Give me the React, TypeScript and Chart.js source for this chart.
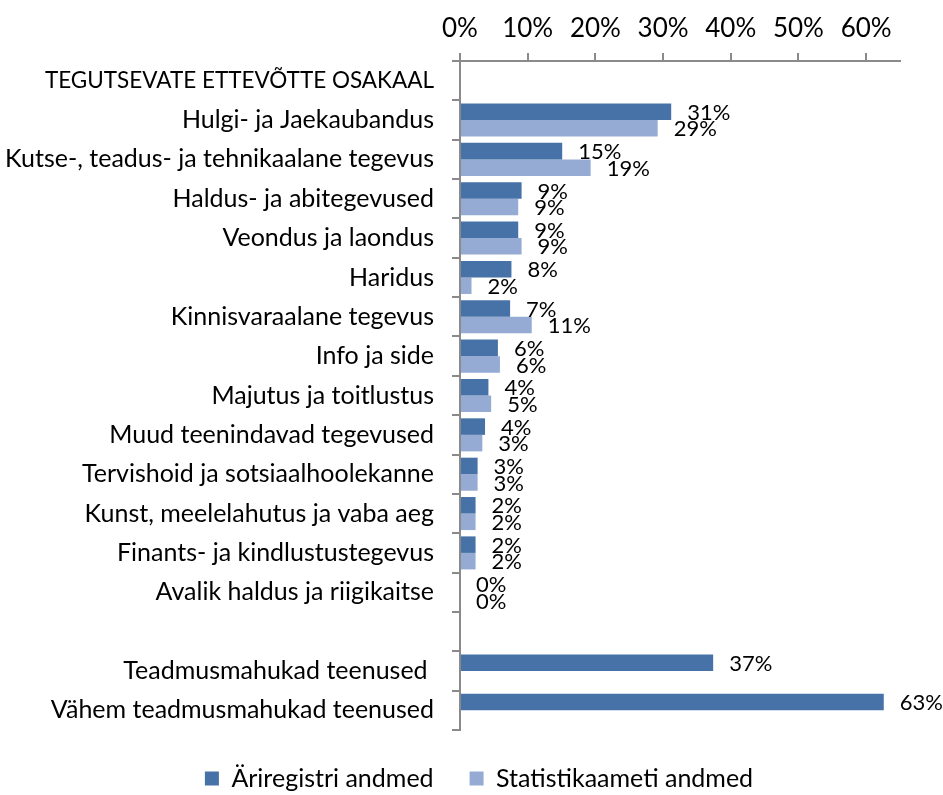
import React, { useEffect, useRef } from "react";
import { Chart, registerables } from "chart.js";

Chart.register(...registerables);

const categories = [
  "TEGUTSEVATE ETTEVÕTTE OSAKAAL",
  "Hulgi- ja Jaekaubandus",
  "Kutse-, teadus- ja tehnikaalane tegevus",
  "Haldus- ja abitegevused",
  "Veondus ja laondus",
  "Haridus",
  "Kinnisvaraalane tegevus",
  "Info ja side",
  "Majutus ja toitlustus",
  "Muud teenindavad tegevused",
  "Tervishoid ja sotsiaalhoolekanne",
  "Kunst, meelelahutus ja vaba aeg",
  "Finants- ja kindlustustegevus",
  "Avalik haldus ja riigikaitse",
  "",
  "Teadmusmahukad teenused ",
  "Vähem teadmusmahukad teenused",
];

const seriesNames = ["Äriregistri andmed", "Statistikaameti andmed"];

const ariregistriAndmed = [null, 31.2, 15.1, 9.1, 8.6, 7.6, 7.4, 5.6, 4.2, 3.7, 2.6, 2.3, 2.3, 0, null, 37.4, 62.6];
const statistikaametiAndmed = [null, 29.2, 19.3, 8.6, 9.1, 1.7, 10.6, 5.9, 4.6, 3.3, 2.6, 2.3, 2.3, 0, null, null, null];

const xTicks = { min: 0, max: 65, step: 10 };

const DARK = "#4672A7";
const LIGHT = "#95ABD4";
const AXIS = "#8a8a8a";
const FONT = "Lato";

const dataLabelPlugin = {
  id: "dataLabels",
  afterDatasetsDraw(chart: any) {
    const ctx = chart.ctx;
    ctx.save();
    ctx.font = `22px ${FONT}`;
    ctx.fillStyle = "#000";
    ctx.textAlign = "left";
    ctx.textBaseline = "middle";
    chart.data.datasets.forEach((ds: any, di: number) => {
      const meta = chart.getDatasetMeta(di);
      meta.data.forEach((el: any, i: number) => {
        const v = ds.data[i];
        if (v === null || v === undefined) return;
        ctx.fillText(Math.round(v) + "%", el.x + 16, el.y + 1);
      });
    });
    ctx.restore();
  },
};

const legendShiftPlugin = {
  id: "legendShift",
  afterLayout(chart: any) {
    const lg = chart.legend;
    if (lg) {
      lg.left += 29;
      lg.right += 29;
    }
  },
};

export default function App() {
  const ref = useRef<HTMLCanvasElement | null>(null);

  useEffect(() => {
    document.body.style.margin = "0";
    const canvas = ref.current;
    if (!canvas) return;
    const chart = new Chart(canvas, {
      type: "bar",
      data: {
        labels: categories,
        datasets: [
          {
            label: seriesNames[0],
            data: ariregistriAndmed,
            backgroundColor: DARK,
            categoryPercentage: 0.84,
            barPercentage: 1,
          },
          {
            label: seriesNames[1],
            data: statistikaametiAndmed,
            backgroundColor: LIGHT,
            categoryPercentage: 0.84,
            barPercentage: 1,
          },
        ],
      },
      options: {
        indexAxis: "y",
        animation: false,
        responsive: false,
        maintainAspectRatio: false,
        layout: { padding: { left: 0, right: 43, top: 0, bottom: -6 } },
        plugins: {
          tooltip: { enabled: false },
          legend: {
            position: "bottom",
            labels: {
              font: { family: FONT, size: 25 },
              color: "#000",
              boxWidth: 14,
              boxHeight: 14,
              padding: 36,
            },
          },
        },
        scales: {
          x: {
            position: "top",
            min: xTicks.min,
            max: xTicks.max,
            afterFit(scale: any) {
              scale.height = 61;
            },
            ticks: {
              stepSize: xTicks.step,
              includeBounds: false,
              color: "#000",
              font: { family: FONT, size: 26 },
              padding: 9,
              callback: (v: any) => v + "%",
            },
            grid: {
              drawOnChartArea: false,
              drawTicks: true,
              tickLength: 8,
              color: AXIS,
              lineWidth: 2,
            },
            border: { display: true, color: AXIS, width: 2 },
          },
          y: {
            afterFit(scale: any) {
              scale.width = 460;
            },
            ticks: {
              autoSkip: false,
              color: "#000",
              font: (ctx: any) => ({ family: FONT, size: ctx.index === 0 ? 22.5 : 25 }),
              padding: 18,
            },
            grid: {
              drawOnChartArea: false,
              drawTicks: true,
              tickLength: 8,
              color: AXIS,
              lineWidth: 2,
            },
            border: { display: true, color: AXIS, width: 2 },
          },
        },
      },
      plugins: [dataLabelPlugin, legendShiftPlugin],
    } as any);
    return () => chart.destroy();
  }, []);

  return (
    <div style={{ width: 943, height: 795, overflow: "hidden" }}>
      <canvas ref={ref} width={943} height={795} style={{ display: "block", width: 943, height: 795 }} />
    </div>
  );
}
